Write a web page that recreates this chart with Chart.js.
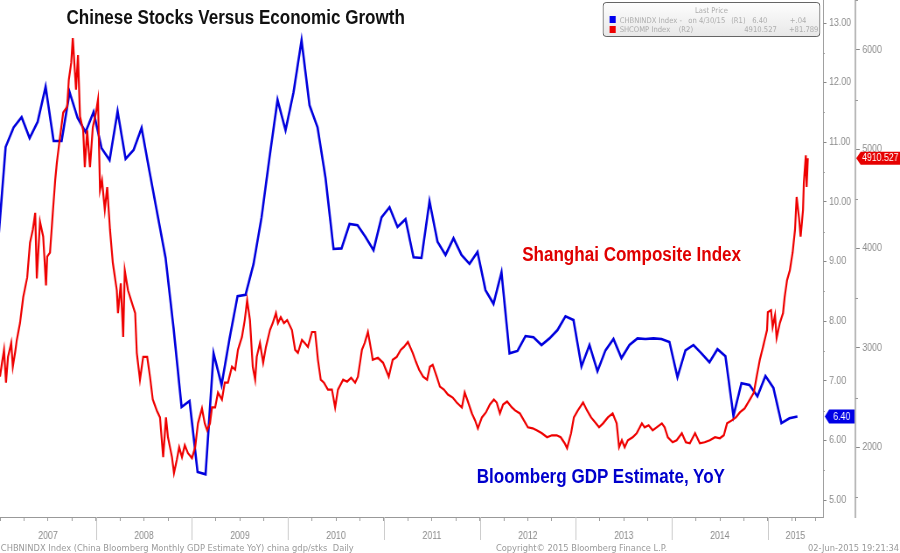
<!DOCTYPE html>
<html>
<head>
<meta charset="utf-8">
<script src="https://cdn.jsdelivr.net/npm/chart.js@4.4.0/dist/chart.umd.min.js"></script>
<style>
html, body { margin: 0; padding: 0; background: #fff; overflow: hidden; }
/* the original picture is a horizontally squeezed Bloomberg screen, so draw wide and squeeze */
#wrap { position: absolute; left: 0; top: 0; width: 1029px; height: 553px; transform: scaleX(0.8746); transform-origin: 0 0; }
#wrap canvas { position: absolute; left: 0; top: 0; }
.lbl { position: absolute; white-space: pre; line-height: 1; }
.big { font-family: 'Liberation Sans', Arial, sans-serif; font-weight: bold; font-size: 19.5px; }
.small { font-family: 'DejaVu Sans', Verdana, sans-serif; }
#legend { position: absolute; left: 689px; top: 2px; width: 247px; height: 33px; border: 1px solid #5a5a5a; border-radius: 4px; background: linear-gradient(#fdfdfd, #e8e8e8); }
#legend .lbl { font-size: 7.8px; color: #adadad; }
.sq { position: absolute; width: 7px; height: 7px; }
#footer .lbl { font-size: 9.5px; color: #999; }
</style>
</head>
<body>
<div id="wrap">
  <canvas id="myChart" width="1029" height="553"></canvas>

  <div class="lbl big" style="left:76px; top:7.5px; color:#111;">Chinese Stocks Versus Economic Growth</div>
  <div class="lbl big" style="left:597px; top:244.5px; color:#e00000;">Shanghai Composite Index</div>
  <div class="lbl big" style="left:545px; top:466.5px; color:#0000cc;">Bloomberg GDP Estimate, YoY</div>

  <div id="legend" class="small">
    <div class="lbl" style="left:0; width:100%; text-align:center; top:4px;">Last Price</div>
    <div class="sq" style="left:7px; top:13px; background:#0000ee;"></div>
    <div class="lbl" style="left:18.5px; top:13.5px;">CHBNINDX Index -</div>
    <div class="lbl" style="left:97px; top:13.5px;">on 4/30/15</div>
    <div class="lbl" style="left:146px; top:13.5px;">(R1)</div>
    <div class="lbl" style="left:170px; top:13.5px;">6.40</div>
    <div class="lbl" style="left:213px; top:13.5px;">+.04</div>
    <div class="sq" style="left:7px; top:23px; background:#ee0000;"></div>
    <div class="lbl" style="left:18.5px; top:23px;">SHCOMP Index</div>
    <div class="lbl" style="left:86px; top:23px;">(R2)</div>
    <div class="lbl" style="left:161px; top:23px;">4910.527</div>
    <div class="lbl" style="left:212px; top:23px;">+81.789</div>
  </div>

  <div id="footer" class="small">
    <div class="lbl" style="left:1px; top:542.5px;">CHBNINDX Index (China Bloomberg Monthly GDP Estimate YoY) china gdp/stks  Daily</div>
    <div class="lbl" style="left:567px; top:542.5px;">Copyright© 2015 Bloomberg Finance L.P.</div>
    <div class="lbl" style="right:1px; top:542.5px;">02-Jun-2015 19:21:34</div>
  </div>
</div>

<script>
// Monthly GDP estimate (R1), Dec 2006 .. Apr 2015, one value per month
const gdpValues = [
    9.20,
    10.92, 11.25, 11.42, 11.07, 11.34, 11.93, 11.02, 11.02, 11.84, 11.41, 11.17, 11.51,
    10.90, 10.70, 11.52, 10.72, 10.87, 11.24, 10.50, 9.78, 9.06, 7.88, 6.56, 6.66,
    5.47, 5.43, 7.46, 6.93, 7.71, 8.42, 8.44, 8.96, 9.74, 10.75, 11.71, 11.20,
    11.84, 12.71, 11.62, 11.25, 10.40, 9.21, 9.22, 9.63, 9.61, 9.41, 9.19, 9.74,
    9.91, 9.58, 9.71, 9.07, 9.06, 10.01, 9.33, 9.11, 9.39, 9.11, 8.96, 9.16,
    8.52, 8.29, 8.82, 7.46, 7.50, 7.75, 7.73, 7.60, 7.71, 7.85, 8.08, 8.02,
    7.24, 7.60, 7.16, 7.51, 7.70, 7.38, 7.60, 7.71, 7.70, 7.71, 7.70, 7.65,
    7.06, 7.51, 7.60, 7.46, 7.31, 7.53, 7.41, 6.41, 6.96, 6.93, 6.74, 7.08,
    6.88, 6.29, 6.37, 6.40
];
// position of each monthly print, in months since Jan 2007 (prints land near month end)
const gdpMonths = gdpValues.map((v, i) => i - 0.3);

// Shanghai Composite (R2), months since Jan 2007
const shcompMonths = [
    0, 0.25, 0.5, 0.75, 1, 1.4, 1.6, 1.9, 2.1, 2.5, 2.9, 3.4, 3.75, 4.1, 4.4, 4.6, 5, 5.4, 5.75, 5.9,
    6.25, 6.6, 6.9, 7.1, 7.4, 7.9, 8.4, 8.6, 8.9, 9.1, 9.5, 9.75, 10, 10.4, 10.6, 10.9, 11.25, 11.6,
    12, 12.25, 12.5, 12.75, 13.1, 13.4, 13.75, 14.1, 14.6, 14.75, 15.1, 15.4, 15.6, 16, 16.5, 16.9,
    17.1, 17.5, 17.9, 18.4, 18.75, 19.1, 19.6, 20, 20.4, 20.75, 21, 21.5, 21.75, 22.1, 22.4, 22.75,
    23.1, 23.5, 24, 24.4, 24.75, 25.25, 25.6, 25.9, 26.25, 26.5, 26.9, 27.25, 27.75, 28.1, 28.5,
    29, 29.4, 29.75, 30.25, 30.6, 30.9, 31.25, 31.6, 31.9, 32.1, 32.5, 32.9, 33.25, 33.75, 34.1,
    34.5, 34.75, 35.1, 35.5, 35.9, 36.5, 36.9, 37.25, 37.75, 38.1, 38.5, 39, 39.4, 39.75, 40.1,
    40.5, 41, 41.5, 41.9, 42.25, 42.9, 43.4, 43.9, 44.4, 44.75, 45.25, 45.6, 46, 46.4, 46.6, 47.25,
    47.9, 48.25, 48.6, 49.1, 49.6, 50.1, 50.5, 51, 51.6, 52, 52.4, 52.9, 53.4, 53.75, 54.1, 54.6,
    55, 55.5, 56, 56.6, 57.1, 57.75, 58.1, 58.5, 59, 59.4, 59.75, 60.25, 60.75, 61.25, 61.75, 62.1,
    62.5, 62.9, 63.4, 64, 64.4, 65, 65.5, 66, 66.6, 67.1, 67.75, 68.4, 69, 69.6, 70.1, 70.6, 70.9,
    71.4, 71.75, 72.25, 72.9, 73.4, 73.9, 74.4, 74.9, 75.4, 76, 76.6, 77.1, 77.4, 77.75, 78.1, 78.5,
    79.1, 79.6, 80.25, 80.6, 81.1, 81.6, 82.1, 82.75, 83.1, 83.5, 84.1, 84.6, 85.25, 85.75, 86.25,
    86.9, 87.5, 88.1, 88.75, 89.4, 90, 90.5, 90.9, 91.5, 92, 92.5, 93.1, 93.75, 94.25, 94.6, 95,
    95.4, 95.9, 96, 96.4, 96.6, 96.9, 97.1, 97.5, 97.9, 98.1, 98.4, 98.75, 99.1, 99.4, 99.6, 99.9,
    100.1, 100.4, 100.5, 100.75, 100.85, 101
];
const shcompValues = [
    2710, 2850, 2980, 2650, 2910, 3050, 2810, 2960, 3080, 3250, 3510, 3710, 4060, 4190, 4360, 3700, 4270, 4120, 3630, 3920,
    3960, 4360, 4690, 4860, 5060, 5370, 5430, 5700, 5870, 6120, 5600, 5950, 5330, 5190, 4820, 5190, 4820, 5220,
    5370, 5500, 4590, 4690, 4390, 4620, 4190, 3860, 3580, 3350, 3650, 3110, 3780, 3580, 3450, 3350,
    2950, 2680, 2910, 2910, 2710, 2480, 2370, 2300, 1900, 2300, 2100, 1900, 1740, 1870, 2000, 1900,
    2020, 1940, 1890, 2000, 2240, 2390, 2240, 2170, 2240, 2400, 2400, 2550, 2480, 2650, 2650,
    2810, 2780, 2980, 3110, 3280, 3480, 3280, 2810, 2680, 2910, 3050, 2850, 3010, 3180, 3250,
    3350, 3250, 3310, 3250, 3280, 3180, 2980, 2950, 3080, 3050, 3010, 3160, 3160, 2880, 2680,
    2650, 2580, 2580, 2400, 2580, 2680, 2660, 2700, 2650, 2710, 2980, 3050, 3160, 2980, 2880, 2900,
    2850, 2780, 2710, 2880, 2910, 2980, 3010, 3060, 2950, 2860, 2780, 2710, 2680, 2810, 2830, 2710,
    2610, 2580, 2530, 2500, 2450, 2400, 2550, 2460, 2340, 2270, 2190, 2300, 2350, 2430, 2480, 2450,
    2340, 2430, 2460, 2400, 2370, 2340, 2270, 2200, 2190, 2170, 2140, 2100, 2120, 2120, 2100, 2040, 1990,
    2140, 2300, 2370, 2450, 2370, 2300, 2250, 2200, 2240, 2300, 2340, 2240, 2000, 2070, 2000, 2070,
    2100, 2140, 2240, 2200, 2220, 2170, 2200, 2240, 2200, 2100, 2050, 2070, 2140, 2050, 2040,
    2140, 2040, 2050, 2070, 2100, 2090, 2120, 2240, 2270, 2300, 2350, 2390, 2480, 2550, 2710, 2880,
    3010, 3180, 3360, 3380, 3210, 3330, 3100, 3250, 3350, 3510, 3680, 3780, 3960, 4190, 4520, 4310,
    4120, 4390, 4660, 4940, 4620, 4910.527
];

const yearNames = ['2007', '2008', '2009', '2010', '2011', '2012', '2013', '2014', '2015'];
const r1Ticks = [5, 6, 7, 8, 9, 10, 11, 12, 13];
const r2Ticks = [2000, 3000, 4000, 5000, 6000];
const r1Range = [4.715, 13.386];
const r2Range = [1297, 6503.5];
const monthRange = [0, 102.9];

// quarterly tick marks along the date axis, plus one label tick centred in the partial 2015 year
const xTicks = [];
for (let m = 0; m <= monthRange[1]; m += 3) xTicks.push({ value: m });
const lastYearMid = (96 + monthRange[1]) / 2;
xTicks.push({ value: lastYearMid, label: true });
xTicks.sort((a, b) => a.value - b.value);

function xLabel(v) {
    if (Math.abs(v - lastYearMid) < 0.01) return yearNames[8];
    if (v % 12 === 6 && v < 96) return yearNames[v / 12 - 0.5];
    return '';
}

const tickFont = { family: "'Liberation Sans', Arial, sans-serif", size: 10 };

const extras = {
    id: 'extras',
    afterDraw(chart) {
        const ctx = chart.ctx;
        const xs = chart.scales.x, y1 = chart.scales.y1, y2 = chart.scales.y2;
        const bottom = chart.chartArea.bottom;
        ctx.save();
        // year separators under the axis
        ctx.strokeStyle = '#c6c6c6';
        ctx.lineWidth = 1;
        for (let m = 12; m < monthRange[1]; m += 12) {
            const px = Math.round(xs.getPixelForValue(m)) + 0.5;
            ctx.beginPath(); ctx.moveTo(px, bottom); ctx.lineTo(px, bottom + 23); ctx.stroke();
        }
        // minor ticks on both value axes
        ctx.strokeStyle = '#999';
        for (let v = 5.5; v < r1Range[1]; v += 1) {
            const py = Math.round(y1.getPixelForValue(v)) + 0.5;
            ctx.beginPath(); ctx.moveTo(y1.left, py); ctx.lineTo(y1.left + 2, py); ctx.stroke();
        }
        for (let v = 1500; v < r2Range[1]; v += 1000) {
            const py = Math.round(y2.getPixelForValue(v)) + 0.5;
            ctx.beginPath(); ctx.moveTo(y2.left, py); ctx.lineTo(y2.left + 3, py); ctx.stroke();
        }
        // last value tags
        const lastGdp = gdpValues[gdpValues.length - 1];
        const lastSh = shcompValues[shcompValues.length - 1];
        drawTag(ctx, y1.left + 2, y1.right - 1, y1.getPixelForValue(lastGdp), 7, '#0000e6', lastGdp.toFixed(2));
        drawTag(ctx, y2.left + 1, chart.width, y2.getPixelForValue(lastSh), 6.5, '#e60000', lastSh.toFixed(3));
        ctx.restore();
    }
};

function drawTag(ctx, x0, x1, cy, h, color, text) {
    ctx.fillStyle = color;
    ctx.beginPath();
    ctx.moveTo(x0, cy);
    ctx.lineTo(x0 + 5, cy - h);
    ctx.lineTo(x1, cy - h);
    ctx.lineTo(x1, cy + h);
    ctx.lineTo(x0 + 5, cy + h);
    ctx.closePath();
    ctx.fill();
    ctx.fillStyle = '#fff';
    ctx.font = "10px 'Liberation Sans', Arial, sans-serif";
    ctx.textAlign = 'center';
    ctx.textBaseline = 'middle';
    ctx.fillText(text, (x0 + 5 + x1) / 2, cy + 0.5);
}

const ctx = document.getElementById('myChart').getContext('2d');
const myChart = new Chart(ctx, {
    type: 'line',
    data: {
        datasets: [
            {
                label: 'SHCOMP Index',
                data: shcompMonths.map((m, i) => ({ x: m, y: shcompValues[i] })),
                yAxisID: 'y2',
                borderColor: '#ee0000',
                borderWidth: 2.2,
                pointRadius: 0,
                tension: 0
            },
            {
                label: 'CHBNINDX Index',
                data: gdpMonths.map((m, i) => ({ x: m, y: gdpValues[i] })),
                yAxisID: 'y1',
                borderColor: '#0000dd',
                borderWidth: 2.6,
                pointRadius: 0,
                tension: 0
            }
        ]
    },
    options: {
        responsive: false,
        animation: false,
        events: [],
        layout: { padding: 0 },
        plugins: {
            legend: { display: false },
            title: { display: false },
            tooltip: { enabled: false }
        },
        scales: {
            x: {
                type: 'linear',
                position: 'bottom',
                min: monthRange[0],
                max: monthRange[1],
                grid: {
                    drawOnChartArea: false,
                    tickLength: 4,
                    color: (c) => (c.tick && c.tick.label === true) ? 'rgba(0,0,0,0)' : '#999'
                },
                border: { color: '#999', width: 1 },
                ticks: {
                    autoSkip: false,
                    maxRotation: 0,
                    padding: 9,
                    color: '#8a8a8a',
                    font: tickFont,
                    callback: (v) => xLabel(v)
                },
                afterBuildTicks: (s) => { s.ticks = xTicks.map(t => ({ value: t.value, label: t.label === true })); },
                afterFit: (s) => { s.height = 36; s.paddingLeft = 0; s.paddingRight = 0; }
            },
            y1: {
                position: 'right',
                weight: 0,
                min: r1Range[0],
                max: r1Range[1],
                grid: { drawOnChartArea: false, tickLength: 4, color: '#888' },
                border: { color: '#9a9a9a', width: 1 },
                ticks: {
                    padding: 3,
                    color: '#8a8a8a',
                    font: tickFont,
                    callback: (v) => v.toFixed(2)
                },
                afterBuildTicks: (s) => { s.ticks = r1Ticks.map(v => ({ value: v })); },
                afterFit: (s) => { s.width = 37; s.paddingTop = 0; s.paddingBottom = 0; }
            },
            y2: {
                position: 'right',
                weight: 1,
                min: r2Range[0],
                max: r2Range[1],
                grid: { drawOnChartArea: false, tickLength: 5, color: '#888' },
                border: { color: '#b8b8b8', width: 2 },
                ticks: {
                    padding: 3,
                    color: '#8a8a8a',
                    font: tickFont,
                    callback: (v) => String(v)
                },
                afterBuildTicks: (s) => { s.ticks = r2Ticks.map(v => ({ value: v })); },
                afterFit: (s) => { s.width = 51; s.paddingTop = 0; s.paddingBottom = 0; }
            }
        }
    },
    plugins: [extras]
});
</script>
</body>
</html>
